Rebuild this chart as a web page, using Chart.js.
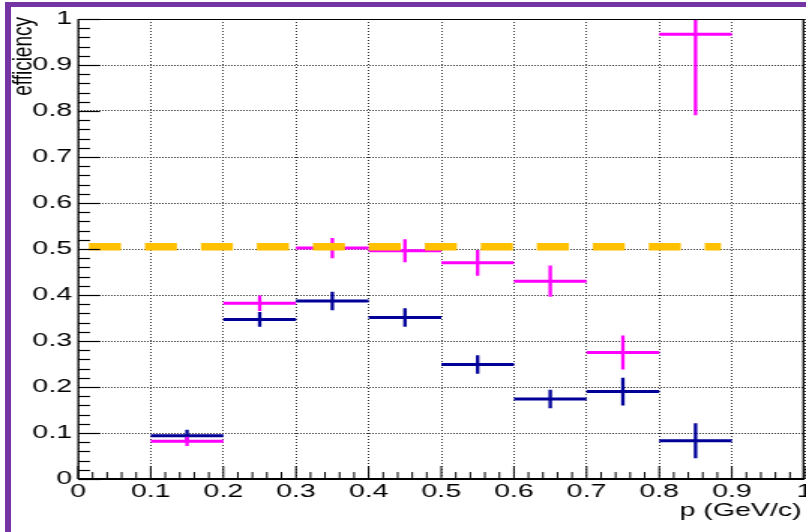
<!DOCTYPE html>
<html>
<head>
<meta charset="utf-8">
<script src="https://cdn.jsdelivr.net/npm/chart.js@4/dist/chart.umd.min.js"></script>
<style>
  html, body { margin: 0; padding: 0; background: #fff; }
  #wrap { position: relative; width: 806px; height: 532px; overflow: hidden; }
  #chart { position: absolute; left: 0; top: 0; }
  .bar { position: absolute; background: #7434a3; }
</style>
</head>
<body>
<div id="wrap">
  <!-- canvas is drawn narrow and stretched 1.5x, like the original image -->
  <canvas id="chart" width="537" height="532" style="width:806px; height:532px;"></canvas>
  <div class="bar" style="left:5px; top:2px; width:801px; height:5px;"></div>
  <div class="bar" style="left:5px; top:2px; width:6px; height:530px;"></div>
</div>
<script>
// momentum bins (GeV/c)
const binLo = [0.1, 0.2, 0.3, 0.4, 0.5, 0.6, 0.7, 0.8];
const binHi = [0.2, 0.3, 0.4, 0.5, 0.6, 0.7, 0.8, 0.9];
const binMid = [0.15, 0.25, 0.35, 0.45, 0.55, 0.65, 0.75, 0.85];

// dark blue series
const blueEff = [0.094, 0.347, 0.387, 0.351, 0.249, 0.174, 0.190, 0.083];
const blueErr = [0.013, 0.016, 0.020, 0.020, 0.020, 0.020, 0.030, 0.038];

// magenta series
const pinkEff = [0.082, 0.382, 0.502, 0.496, 0.470, 0.430, 0.275, 0.967];
const pinkErr = [0.010, 0.017, 0.022, 0.025, 0.028, 0.034, 0.037, 0.176];

// 50% reference line
const refX = [0.015, 0.885];
const refY = [0.505, 0.505];

const axisTicks = { min: 0, max: 1, step: 0.1, minorStep: 0.02 };

function hSegments(eff) {
  const pts = [];
  binLo.forEach((lo, i) => {
    pts.push({ x: lo, y: eff[i] }, { x: binHi[i], y: eff[i] }, { x: binHi[i], y: null });
  });
  return pts;
}

function vSegments(eff, err) {
  const pts = [];
  binMid.forEach((c, i) => {
    pts.push({ x: c, y: eff[i] - err[i] }, { x: c, y: eff[i] + err[i] }, { x: c, y: null });
  });
  return pts;
}

function errSet(data, color, width, order) {
  return {
    data: data,
    showLine: true,
    borderColor: color,
    borderWidth: width,
    borderCapStyle: 'butt',
    pointRadius: 0,
    spanGaps: false,
    order: order,
    clip: 0
  };
}

const BLUE = '#000099';
const PINK = '#ff00ff';

// ROOT-like frame, inner tick marks and axis titles
const rootFrame = {
  id: 'rootFrame',
  afterDraw(chart) {
    const { ctx, chartArea: a, scales: { x, y } } = chart;
    ctx.save();
    ctx.strokeStyle = '#000';
    const n = Math.round((axisTicks.max - axisTicks.min) / axisTicks.minorStep);
    const every = Math.round(axisTicks.step / axisTicks.minorStep);
    ctx.lineWidth = 1.2;
    for (let k = 0; k <= n; k++) {
      const v = axisTicks.min + k * axisTicks.minorStep;
      const py = Math.round(y.getPixelForValue(v)) + 0.5;
      const len = k % every === 0 ? 14.7 : 8;
      ctx.beginPath();
      ctx.moveTo(a.left, py);
      ctx.lineTo(a.left + len, py);
      ctx.stroke();
    }
    ctx.lineWidth = 1;
    for (let k = 0; k <= n; k++) {
      const v = axisTicks.min + k * axisTicks.minorStep;
      const px = x.getPixelForValue(v);
      const len = k % every === 0 ? 13 : 7;
      ctx.beginPath();
      ctx.moveTo(px, a.bottom);
      ctx.lineTo(px, a.bottom - len);
      ctx.stroke();
    }
    // frame
    ctx.lineWidth = 1;
    ctx.beginPath();
    ctx.moveTo(a.left, a.top + 0.5);
    ctx.lineTo(a.right, a.top + 0.5);
    ctx.stroke();
    ctx.lineWidth = 1.3;
    ctx.beginPath();
    ctx.moveTo(a.left + 0.2, a.top);
    ctx.lineTo(a.left + 0.2, a.bottom);
    ctx.moveTo(a.right - 0.7, a.top);
    ctx.lineTo(a.right - 0.7, a.bottom);
    ctx.stroke();
    ctx.lineWidth = 2;
    ctx.beginPath();
    ctx.moveTo(a.left, a.bottom);
    ctx.lineTo(a.right, a.bottom);
    ctx.stroke();

    // axis titles
    ctx.fillStyle = '#000';
    ctx.font = '19px "Liberation Sans", Arial, sans-serif';
    ctx.textAlign = 'right';
    ctx.textBaseline = 'middle';
    ctx.fillText('p (GeV/c)', 534, 511);

    ctx.translate(16, 17);
    ctx.rotate(-Math.PI / 2);
    ctx.font = '19px "Liberation Sans", Arial, sans-serif';
    ctx.textAlign = 'right';
    ctx.fillText('efficiency', 0, 0);
    ctx.restore();
  }
};

const tickFont = { family: '"Liberation Sans", Arial, sans-serif', size: 19 };
const fmt = v => String(+v.toFixed(2));

new Chart(document.getElementById('chart'), {
  type: 'scatter',
  data: {
    datasets: [
      {
        data: refX.map((v, i) => ({ x: v, y: refY[i] })),
        showLine: true,
        borderColor: '#ffc000',
        borderWidth: 7.5,
        borderDash: [21.3, 16],
        borderCapStyle: 'butt',
        pointRadius: 0,
        order: 0
      },
      errSet(hSegments(pinkEff), PINK, 3, 1),
      errSet(vSegments(pinkEff, pinkErr), PINK, 2.3, 1),
      errSet(hSegments(blueEff), BLUE, 3, 2),
      errSet(vSegments(blueEff, blueErr), BLUE, 2.3, 2)
    ]
  },
  options: {
    responsive: false,
    animation: false,
    devicePixelRatio: 1,
    layout: { padding: { top: 19, right: 1, left: 0, bottom: 0 } },
    plugins: { legend: { display: false }, tooltip: { enabled: false } },
    scales: {
      x: {
        type: 'linear',
        min: axisTicks.min,
        max: axisTicks.max,
        ticks: { stepSize: axisTicks.step, color: '#000', font: tickFont, padding: 1, maxRotation: 0, callback: fmt },
        grid: { color: 'rgba(0,0,0,0.8)', lineWidth: 1, drawTicks: false },
        border: { display: false, dash: [1, 2] },
        afterFit(s) { s.height = 53; s.paddingLeft = 0; s.paddingRight = 0; }
      },
      y: {
        type: 'linear',
        min: axisTicks.min,
        max: axisTicks.max,
        ticks: { stepSize: axisTicks.step, color: '#000', font: tickFont, padding: 4, callback: fmt },
        grid: { color: 'rgba(0,0,0,0.8)', lineWidth: 1, drawTicks: false },
        border: { display: false, dash: [1, 1] },
        afterFit(s) { s.width = 52; s.paddingTop = 0; s.paddingBottom = 0; }
      }
    }
  },
  plugins: [rootFrame]
});
</script>
</body>
</html>
